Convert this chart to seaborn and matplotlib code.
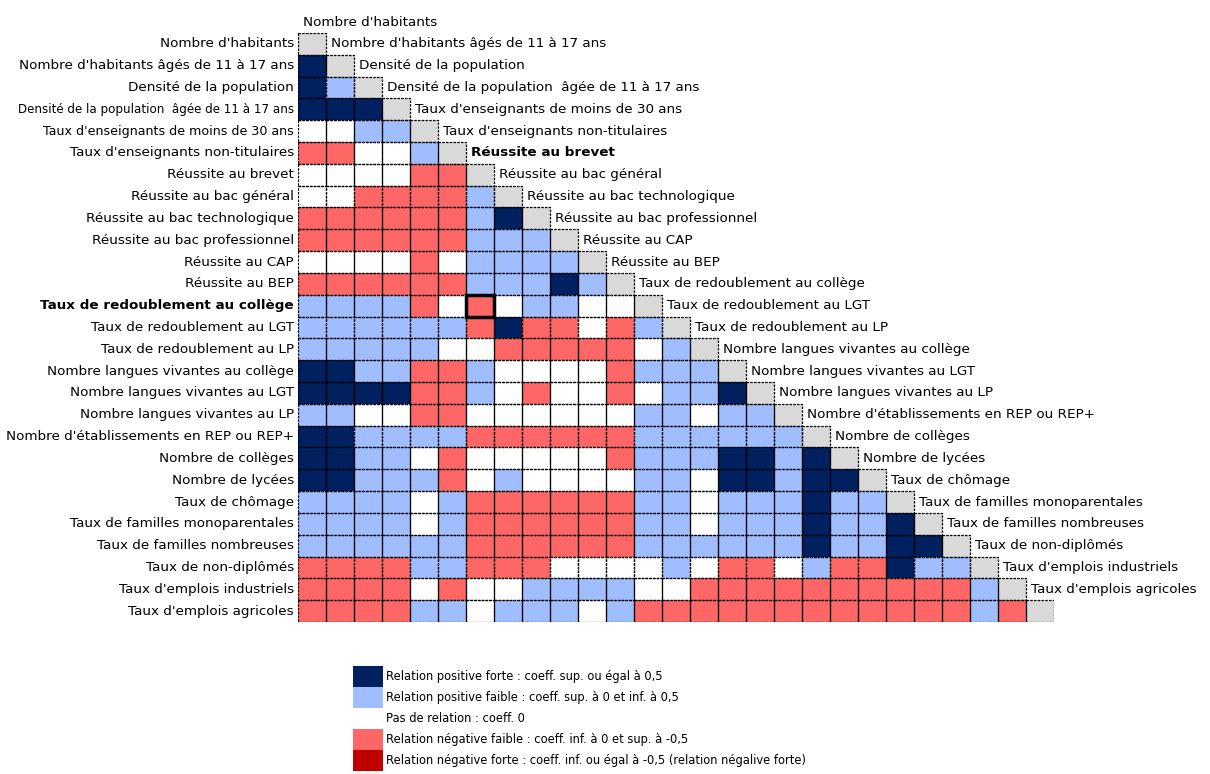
import matplotlib.pyplot as plt
import numpy as np
import seaborn as sns
from matplotlib.colors import ListedColormap
from matplotlib.patches import Patch, Rectangle

# Variables (lignes et colonnes de la matrice)
variables = [
    "Nombre d'habitants",
    "Nombre d'habitants âgés de 11 à 17 ans",
    "Densité de la population",
    "Densité de la population  âgée de 11 à 17 ans",
    "Taux d'enseignants de moins de 30 ans",
    "Taux d'enseignants non-titulaires",
    "Réussite au brevet",
    "Réussite au bac général",
    "Réussite au bac technologique",
    "Réussite au bac professionnel",
    "Réussite au CAP",
    "Réussite au BEP",
    "Taux de redoublement au collège",
    "Taux de redoublement au LGT",
    "Taux de redoublement au LP",
    "Nombre langues vivantes au collège",
    "Nombre langues vivantes au LGT",
    "Nombre langues vivantes au LP",
    "Nombre d'établissements en REP ou REP+",
    "Nombre de collèges",
    "Nombre de lycées",
    "Taux de chômage",
    "Taux de familles monoparentales",
    "Taux de familles nombreuses",
    "Taux de non-diplômés",
    "Taux d'emplois industriels",
    "Taux d'emplois agricoles",
]

# Classes de corrélation (triangle inférieur, hors diagonale)
# 2 = positive forte, 1 = positive faible, 0 = pas de relation,
# -1 = négative faible, -2 = négative forte
classes = [
    [],
    [2],
    [2, 1],
    [2, 2, 2],
    [0, 0, 1, 1],
    [-1, -1, 0, 0, 1],
    [0, 0, 0, 0, -1, -1],
    [0, 0, -1, -1, -1, -1, 1],
    [-1, -1, -1, -1, -1, -1, 1, 2],
    [-1, -1, -1, -1, -1, -1, 1, 1, 1],
    [0, 0, 0, 0, -1, 0, 1, 1, 1, 1],
    [-1, -1, -1, -1, -1, -1, 1, 1, 1, 2, 1],
    [1, 1, 1, 1, -1, 0, -1, 0, 1, 1, 0, 0],
    [1, 1, 1, 1, 1, 1, -1, 2, -1, -1, 0, -1, 1],
    [1, 1, 1, 1, 1, 0, 0, -1, -1, -1, -1, -1, 0, 1],
    [2, 2, 1, 1, -1, -1, 1, 0, 0, 0, 0, -1, 1, 1, 1],
    [2, 2, 2, 2, -1, -1, 1, 0, -1, 0, 0, -1, 0, 1, 1, 2],
    [1, 1, 0, 0, -1, -1, 0, 0, 0, 0, 0, 0, 1, 1, 0, 1, 1],
    [2, 2, 1, 1, 1, 1, -1, -1, -1, -1, -1, -1, 1, 1, 1, 1, 1, 1],
    [2, 2, 1, 1, 0, -1, 0, 0, 0, 0, 0, -1, 1, 1, 1, 2, 2, 1, 2],
    [2, 2, 1, 1, 1, -1, 0, 1, 0, 0, 0, 0, 1, 1, 0, 2, 2, 1, 2, 2],
    [1, 1, 1, 1, 0, 1, -1, -1, -1, -1, -1, -1, 1, 1, 0, 1, 1, 1, 2, 1, 1],
    [1, 1, 1, 1, 0, 1, -1, -1, -1, -1, -1, -1, 1, 1, 0, 1, 1, 1, 2, 1, 1, 2],
    [1, 1, 1, 1, 1, 1, -1, -1, -1, -1, -1, -1, 1, 1, 1, 1, 1, 1, 2, 1, 1, 2, 2],
    [-1, -1, -1, -1, 1, 1, -1, -1, -1, 0, 0, 0, 0, 1, 0, -1, -1, 0, 1, -1, -1, 2, 1, 1],
    [-1, -1, -1, -1, 0, -1, 0, 0, 1, 1, 1, 1, 0, 0, -1, -1, -1, -1, -1, -1, -1, -1, -1, -1, 1],
    [-1, -1, -1, -1, 1, 1, 0, 1, 1, 1, 0, 1, -1, -1, -1, -1, -1, -1, -1, -1, -1, -1, -1, -1, 1, -1],
]

legende = [
    "Relation positive forte : coeff. sup. ou égal à 0,5",
    "Relation positive faible : coeff. sup. à 0 et inf. à 0,5",
    "Pas de relation : coeff. 0",
    "Relation négative faible : coeff. inf. à 0 et sup. à -0,5",
    "Relation négative forte : coeff. inf. ou égal à -0,5 (relation négalive forte)",
]

# couleurs de -2 à 2
couleurs = ['#C00000', '#FF6666', '#FFFFFF', '#A0BEFF', '#002060']

n = len(variables)
mat = np.full((n, n), np.nan)
for i, ligne in enumerate(classes):
    mat[i, :len(ligne)] = ligne
diag = np.where(np.eye(n) == 1, 0.0, np.nan)

fig = plt.figure(figsize=(12.1, 7.74), dpi=100)
ax = fig.add_axes([0.2463, 0.1964, 0.6248, 0.761])

sns.heatmap(mat, mask=np.isnan(mat), cmap=ListedColormap(couleurs),
            vmin=-2.5, vmax=2.5, cbar=False, ax=ax)
sns.heatmap(diag, mask=np.isnan(diag), cmap=ListedColormap(['#D9D9D9']),
            cbar=False, ax=ax)

# bordures pointillées des cellules
for i in range(n):
    for j in range(i + 1):
        ax.add_patch(Rectangle((j, i), 1, 1, fill=False, ec='black',
                               lw=0.9, ls=(0, (2, 1))))

# cellule mise en évidence
ligne_sel = variables.index("Taux de redoublement au collège")
col_sel = variables.index("Réussite au brevet")
ax.add_patch(Rectangle((col_sel, ligne_sel), 1, 1, fill=False,
                       ec='black', lw=2.5, zorder=5))

# étiquettes des lignes
ax.set_xticks([])
ax.set_yticks(np.arange(n) + 0.5)
ax.set_yticklabels(variables, rotation=0, fontsize=9.7)
ax.tick_params(axis='y', length=0, pad=3)
for k, lab in enumerate(ax.get_yticklabels()):
    if k == ligne_sel:
        lab.set_fontweight('bold')
    if k == 3:
        lab.set_fontsize(8.6)
    if k == 4:
        lab.set_fontsize(9.1)
ax.set_xlabel('')
ax.set_ylabel('')

# étiquettes des colonnes, au-dessus de chaque case diagonale
for j, nom in enumerate(variables):
    ax.text(j + 0.18, j - 0.5, nom, ha='left', va='center', fontsize=9.7,
            fontweight='bold' if j == col_sel else 'normal')

# légende
poignees = [Patch(facecolor=c, edgecolor='none', label=l)
            for c, l in zip(couleurs[::-1], legende)]
fig.legend(handles=poignees, loc='upper left', bbox_to_anchor=(0.2917, 0.1395),
           frameon=False, fontsize=8.3, handlelength=2.6, handleheight=2.42,
           labelspacing=0, handletextpad=0.3, borderpad=0, borderaxespad=0)

fig.savefig('out.png', dpi=100)
